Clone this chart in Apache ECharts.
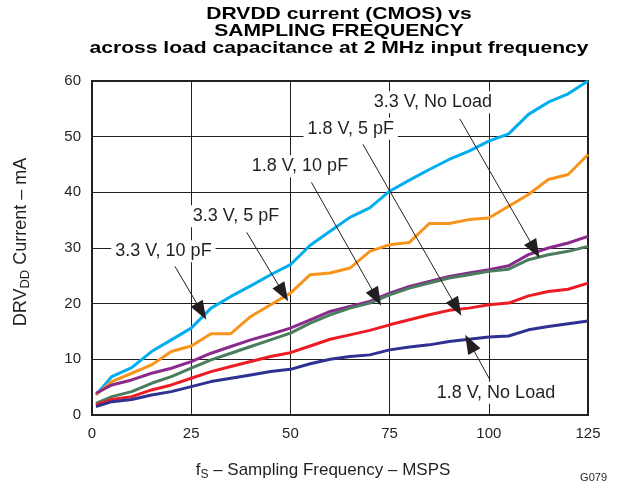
<!DOCTYPE html>
<html><head><meta charset="utf-8">
<script src="https://cdn.jsdelivr.net/npm/echarts@6/dist/echarts.min.js"></script>
<style>html,body{margin:0;padding:0;background:#fff}#c{width:620px;height:489px}</style>
</head><body><div id="c"></div>
<script>
const freq = [1,5,10,15,20,25,30,35,40,45,50,55,60,65,70,75,80,85,90,95,100,105,110,115,120,125];
const v33_10pF = [3.6,6.9,8.5,11.4,13.5,15.6,19.2,21.3,23.2,25.2,27,30.5,33,35.5,37.2,40.2,42.2,44.1,45.9,47.4,49.2,50.5,54,56.2,57.7,60];
const v33_5pF = [3.6,6,7.5,9,11.4,12.4,14.6,14.6,17.7,19.8,21.9,25.2,25.5,26.4,29.4,30.6,31,34.4,34.4,35.1,35.4,37.5,39.6,42.3,43.2,46.8];
const v33_noLoad = [3.9,5.4,6.3,7.5,8.4,9.6,11.1,12.3,13.5,14.5,15.6,17.1,18.6,19.5,20.4,21.9,23.1,24,24.9,25.5,26.1,26.8,28.8,30,30.9,32.1];
const v18_10pF = [2.1,3.3,4.2,5.7,6.9,8.4,9.9,11.1,12.3,13.5,14.7,16.5,18,19.2,20.1,21.6,22.8,23.7,24.6,25.2,25.8,26.2,27.9,28.8,29.4,30.3];
const v18_5pF = [1.8,2.8,3.3,4.5,5.4,6.6,7.8,8.7,9.6,10.5,11.2,12.4,13.6,14.4,15.2,16.2,17.1,18,18.8,19.2,19.8,20.1,21.4,22.2,22.6,23.7];
const v18_noLoad = [1.5,2.4,2.8,3.6,4.2,5.1,6,6.6,7.2,7.8,8.2,9.2,10,10.5,10.8,11.7,12.2,12.6,13.2,13.6,14,14.2,15.3,15.9,16.4,16.9];
const xTicks = [0,25,50,75,100,125];
const yTicks = [0,10,20,30,40,50,60];
const titleLines = ['DRVDD current (CMOS) vs','SAMPLING FREQUENCY','across load capacitance at 2 MHz input frequency'];
// annotation: label text, label position (data), arrow start, arrow tip (data)
const annLabels = ['3.3 V, No Load','1.8 V, 5 pF','1.8 V, 10 pF','3.3 V, 5 pF','3.3 V, 10 pF','1.8 V, No Load'];
const annLabelPos = [[85.9,56.2],[65.2,51.4],[52.4,44.7],[36.3,35.7],[18,29.4],[101.8,4.0]];
const annArrowFrom = [[92.7,53.2],[68.3,48.6],[55.3,41.8],[39,32.8],[20.9,26.7],[100.3,6.3]];
const annArrowTo = [[111.6,29.7],[91.9,19.3],[71.7,21.1],[48.2,21.9],[27.6,18.6],[95.2,12.9]];

const FONT = '"Liberation Sans", Arial, sans-serif';
const pair = (ys) => freq.map((f,i)=>[f, ys[i]]);
const mk = (name, ys, color) => ({
  name, type:'line', data: pair(ys), symbol:'none', smooth:false,
  lineStyle:{color, width:3}, itemStyle:{color}, z:3
});
const series = [
  mk('3.3 V, 10 pF', v33_10pF, '#00aeef'),
  mk('3.3 V, 5 pF', v33_5pF, '#f7941d'),
  mk('3.3 V, No Load', v33_noLoad, '#8a2a8e'),
  mk('1.8 V, 10 pF', v18_10pF, '#4a7d5e'),
  mk('1.8 V, 5 pF', v18_5pF, '#ed1c24'),
  mk('1.8 V, No Load', v18_noLoad, '#2e3192')
];
series.push({
  type:'line', data:[], silent:true, z:5,
  markLine:{
    silent:true, symbol:['none','triangle'], symbolSize:[14,19],
    lineStyle:{color:'#231f20', width:1, type:'solid'},
    label:{show:false}, emphasis:{disabled:true},
    data: annArrowFrom.map((p,i)=>[{coord:p},{coord:annArrowTo[i]}])
  },
  markPoint:{
    silent:true, symbol:'circle', symbolSize:0,
    label:{show:true, position:'inside', color:'#231f20', fontSize:18, fontFamily:FONT,
      backgroundColor:'#fff', padding:[2,4]},
    data: annLabels.map((t,i)=>({coord:annLabelPos[i], value:t, label:{formatter:t}}))
  }
});

const richName = (fs) => ({
  a:{fontFamily:FONT,fontSize:fs,color:'#231f20',lineHeight:22,verticalAlign:'middle'},
  s:{fontFamily:FONT,fontSize:fs-5,color:'#231f20',lineHeight:22,verticalAlign:'bottom', padding:[7,0,0,0]}
});

const chart = echarts.init(document.getElementById('c'), null, {renderer:'canvas'});
chart.setOption({
  animation:false,
  backgroundColor:'#fff',
  grid:{left:92, right:32, top:81, bottom:74, show:true, borderColor:'#231f20', borderWidth:2, containLabel:false},
  xAxis:{
    type:'value', min:xTicks[0], max:xTicks[xTicks.length-1], interval:25,
    axisLine:{show:false}, axisTick:{show:false},
    splitLine:{show:true, lineStyle:{color:'#231f20', width:1}},
    axisLabel:{fontFamily:FONT, fontSize:15, color:'#231f20', margin:11},
    name:'{a|f}{s|S}{a| – Sampling Frequency – MSPS}', nameLocation:'middle', nameGap:44,
    nameTextStyle:{padding:[0,34,0,0], rich:richName(17)}
  },
  yAxis:{
    type:'value', min:yTicks[0], max:yTicks[yTicks.length-1], interval:10,
    axisLine:{show:false}, axisTick:{show:false},
    splitLine:{show:true, lineStyle:{color:'#231f20', width:1}},
    axisLabel:{fontFamily:FONT, fontSize:15, color:'#231f20', margin:11},
    name:'{a|DRV}{s|DD}{a| Current – mA}', nameLocation:'middle', nameGap:60, nameRotate:90,
    nameTextStyle:{padding:[0,0,0,12], rich:richName(18)}
  },
  graphic:[
    ...titleLines.map((t,i)=>({type:'text', x:339, y:14+i*17.3, scaleX:1.24,
      style:{text:t, font:'bold 17px '+FONT, fill:'#000', textAlign:'center', textVerticalAlign:'middle'}})),
    {type:'text', right:13, top:472, style:{text:'G079', font:'11px '+FONT, fill:'#231f20'}}
  ],
  series
});
</script></body></html>
